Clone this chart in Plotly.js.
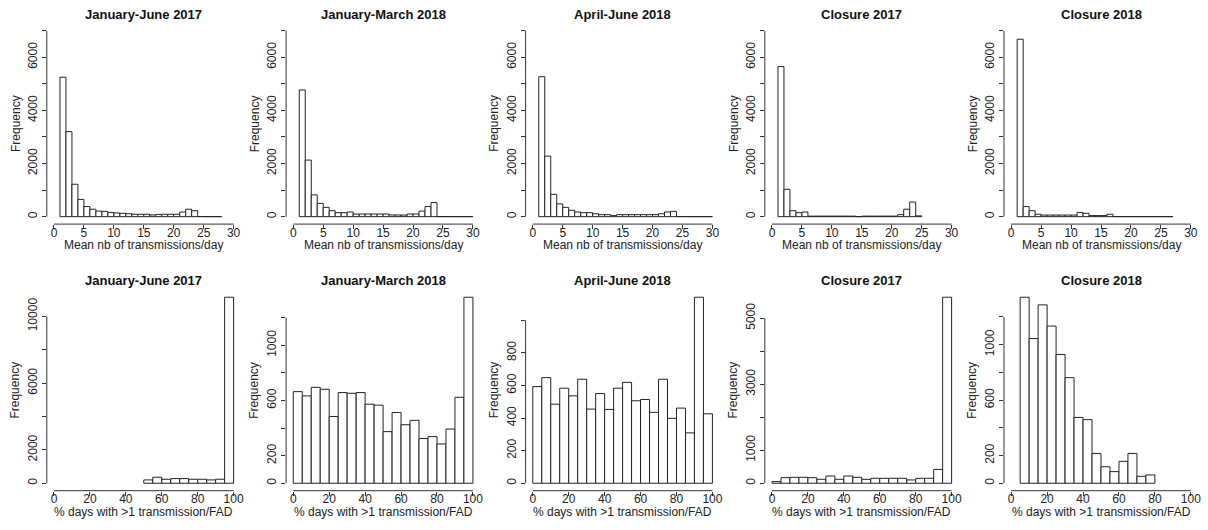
<!DOCTYPE html>
<html>
<head>
<meta charset="utf-8">
<script src="https://cdn.plot.ly/plotly-3.0.1.min.js"></script>
<style>body{margin:0;background:#fff}#chart{width:1208px;height:530px}</style>
</head>
<body>
<div id="chart"></div>
<script>
// ---------- DATA ----------
const titles = ["January-June 2017", "January-March 2018", "April-June 2018", "Closure 2017", "Closure 2018"];
const xTitleTop = "Mean nb of transmissions/day";
const xTitleBottom = "% days with >1 transmission/FAD";
const yTitle = "Frequency";

// Top row: mean nb of transmissions/day, bins of width 1 starting at 1
const topBinWidth = 1;
const topStart = [1, 1, 1, 1, 1];
const meanJanJun2017 = [5250, 3200, 1220, 650, 380, 280, 210, 200, 160, 140, 125, 110, 90, 90, 90, 65, 85, 90, 90, 90, 175, 280, 225, 6, 3, 2, 1];
const meanJanMar2018 = [4770, 2130, 820, 500, 350, 225, 150, 150, 175, 100, 100, 100, 100, 100, 100, 65, 65, 60, 100, 100, 210, 380, 530, 4, 3, 2, 1, 1, 1];
const meanAprJun2018 = [5270, 2280, 840, 480, 350, 240, 175, 150, 150, 110, 75, 75, 40, 75, 75, 75, 75, 75, 75, 75, 110, 175, 200, 4, 3, 2, 1, 1, 1];
const meanClosure2017 = [5650, 1030, 225, 150, 175, 20, 20, 20, 20, 20, 20, 20, 20, 0, 20, 20, 20, 20, 20, 20, 75, 280, 550, 30];
const meanClosure2018 = [6680, 380, 225, 90, 60, 60, 60, 60, 60, 60, 160, 125, 40, 40, 40, 90, 3, 2, 2, 1, 1, 1, 1, 1, 1, 1];

// Bottom row: % days with >1 transmission/FAD, bins of width 5
const botBinWidth = 5;
const botStart = [50, 0, 0, 0, 5];
const pctJanJun2017 = [200, 360, 240, 280, 280, 240, 240, 200, 240, 11150];
const pctJanMar2018 = [664, 633, 695, 681, 484, 657, 652, 657, 573, 566, 374, 513, 424, 456, 324, 338, 285, 393, 623, 1348];
const pctAprJun2018 = [593, 648, 485, 583, 536, 638, 455, 550, 453, 583, 619, 506, 514, 435, 638, 398, 461, 309, 1141, 426];
const pctClosure2017 = [50, 170, 180, 180, 170, 120, 220, 120, 220, 180, 120, 150, 150, 150, 150, 100, 150, 150, 420, 5634];
const pctClosure2018 = [1342, 1044, 1287, 1134, 929, 762, 475, 459, 215, 119, 84, 158, 215, 50, 60];

// Tick values / labels
const topXTicks = [0, 5, 10, 15, 20, 25, 30];
const botXTicks = [0, 20, 40, 60, 80, 100];
const topYTicks = [0, 1000, 2000, 3000, 4000, 5000, 6000, 7000];
const topYLabels = ["0", "", "2000", "", "4000", "", "6000", ""];
const botYTicks = [
  [0, 2000, 4000, 6000, 8000, 10000],
  [0, 200, 400, 600, 800, 1000, 1200],
  [0, 200, 400, 600, 800, 1000],
  [0, 1000, 2000, 3000, 4000, 5000],
  [0, 200, 400, 600, 800, 1000, 1200]
];
const botYLabels = [
  ["0", "2000", "", "6000", "", "10000"],
  ["0", "200", "", "600", "", "1000", ""],
  ["0", "200", "400", "600", "800", ""],
  ["0", "1000", "", "3000", "", "5000"],
  ["0", "200", "", "600", "", "1000", ""]
];

const topSeries = [meanJanJun2017, meanJanMar2018, meanAprJun2018, meanClosure2017, meanClosure2018];
const botSeries = [pctJanJun2017, pctJanMar2018, pctAprJun2018, pctClosure2017, pctClosure2018];

// ---------- LAYOUT ----------
const W = 1208, H = 530;
const lefts = [46.8, 286.1, 525.6, 764.8, 1004];
const plotW = 194;
const topRow = [23.3, 224.1];   // px top,bottom
const botRow = [289.8, 490.7];
const ink = "#222";
const axisCol = "#333";
const FONT = "Liberation Sans, Arial, sans-serif";

const traces = [], shapes = [], annotations = [];
const layout = {
  width: W, height: H, margin: {l: 0, r: 0, t: 0, b: 0},
  paper_bgcolor: "#fff", plot_bgcolor: "#fff", showlegend: false,
  bargap: 0, font: {family: FONT, size: 12, color: ink}
};

function addPanel(idx, counts, start, bw, xr, yr, xt, yt, ylab, rowPx, title, xTitle) {
  const k = idx + 1;
  const xa = "xaxis" + (k === 1 ? "" : k), ya = "yaxis" + (k === 1 ? "" : k);
  const xref = "x" + (k === 1 ? "" : k), yref = "y" + (k === 1 ? "" : k);
  const col = idx % 5;
  const x = counts.map((_, i) => start + i * bw + bw / 2);
  traces.push({
    type: "bar", x: x, y: counts, width: bw, xaxis: xref, yaxis: yref,
    marker: {color: "#fff", line: {color: ink, width: 1}}, hoverinfo: "skip"
  });
  const d0 = lefts[col] / W, d1 = (lefts[col] + plotW) / W;
  layout[xa] = {
    domain: [d0, d1], range: xr, anchor: yref, showgrid: false, zeroline: false, showline: false,
    tickmode: "array", tickvals: xt, ticktext: xt.map(String), ticks: "outside", ticklen: 4,
    ticklabelstandoff: -7,
    tickcolor: axisCol, tickwidth: 1, tickfont: {family: FONT, size: 12, color: ink}
  };
  layout[ya] = {
    domain: [1 - rowPx[1] / H, 1 - rowPx[0] / H], range: yr, anchor: xref,
    showgrid: false, zeroline: false, showline: false,
    tickmode: "array", tickvals: yt, ticktext: ylab, ticks: "outside", ticklen: 4,
    tickcolor: axisCol, tickwidth: 1, tickangle: -90, tickfont: {family: FONT, size: 12, color: ink}
  };
  shapes.push({type: "line", xref: xref, yref: yref + " domain", x0: xt[0], x1: xt[xt.length - 1], y0: 0, y1: 0,
               line: {color: axisCol, width: 1}});
  shapes.push({type: "line", xref: xref + " domain", yref: yref, x0: 0, x1: 0, y0: yt[0], y1: yt[yt.length - 1],
               line: {color: axisCol, width: 1}});
  const cx = (lefts[col] + plotW / 2) / W;
  annotations.push({text: "<b>" + title + "</b>", xref: "paper", yref: "paper", x: cx,
                    y: 1 - (rowPx[0] - 9) / H, xanchor: "center", yanchor: "middle", showarrow: false,
                    font: {family: FONT, size: 13, color: "#111"}});
  annotations.push({text: xTitle, xref: "paper", yref: "paper", x: cx,
                    y: 1 - (rowPx[1] + 21) / H, xanchor: "center", yanchor: "middle", showarrow: false,
                    font: {family: FONT, size: 12, color: ink}});
  annotations.push({text: yTitle, xref: "paper", yref: "paper", x: (lefts[col] - 31.5) / W,
                    y: 1 - (rowPx[0] + rowPx[1]) / 2 / H, xanchor: "center", yanchor: "middle", showarrow: false,
                    textangle: -90, font: {family: FONT, size: 12, color: ink}});
}

for (let i = 0; i < 5; i++) {
  addPanel(i, topSeries[i], topStart[i], topBinWidth, [-1.2, 31.2], [-280, 7280],
           topXTicks, topYTicks, topYLabels, topRow, titles[i], xTitleTop);
}
for (let i = 0; i < 5; i++) {
  const m = Math.max(...botSeries[i]);
  addPanel(i + 5, botSeries[i], botStart[i], botBinWidth, [-4, 104], [-0.04 * m, 1.04 * m],
           botXTicks, botYTicks[i], botYLabels[i], botRow, titles[i], xTitleBottom);
}
layout.shapes = shapes;
layout.annotations = annotations;

Plotly.newPlot("chart", traces, layout, {staticPlot: true, displayModeBar: false});
</script>
</body>
</html>
